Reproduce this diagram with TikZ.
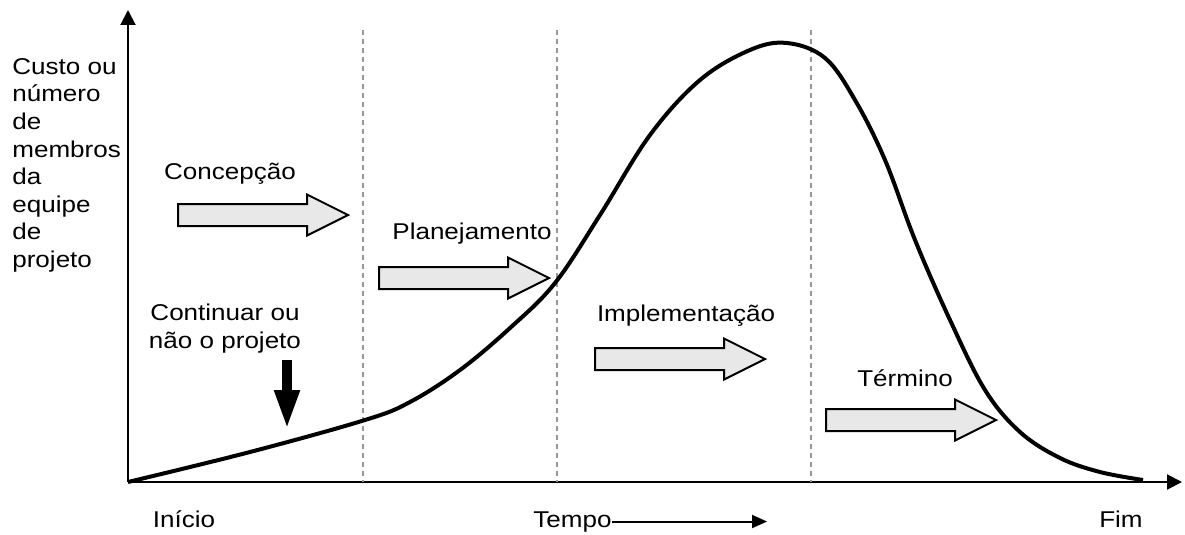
\documentclass[tikz,border=0pt]{standalone}
\usepackage{fontspec}
\setmainfont{Liberation Sans}[FakeStretch=1.14]
\usetikzlibrary{arrows.meta, positioning}

\definecolor{phasefill}{RGB}{232,232,232}
\definecolor{guidegray}{RGB}{150,150,150}

\tikzset{
  phase/.pic={
    \draw[fill=phasefill, line width=0.04cm, line join=miter]
      (0,-11) -- (129,-11) -- (129,-20.5) -- (170,0) -- (129,20.5)
      -- (129,11) -- (0,11) -- cycle;
  },
  txt/.style={font=\fontsize{13}{15.7}\selectfont, inner sep=0pt},
  guide/.style={guidegray, line width=0.03cm, dash pattern=on 0.1cm off 0.08cm},
  axis/.style={line width=0.04cm, -{Triangle[length=0.3cm,width=0.3cm]}}
}

\begin{document}
\begin{tikzpicture}[x=0.02cm, y=-0.02cm]
    \useasboundingbox (0,0) rectangle (1185,534);

    % axes
    \coordinate (o) at (128,482);
    \coordinate (ytop) at (128,10);
    \coordinate (xend) at (1182,482);
    \draw[axis] (o) -- (ytop);
    \draw[axis] (o) -- (xend);

    % phase limits
    \foreach \x in {363, 557, 811}
        \draw[guide] (\x,30) -- (\x,482);

    % effort curve
    \draw[line width=0.08cm, line join=round] plot[smooth, tension=0.6] coordinates {
        (128,482) (250,452) (365,420) (410,402) (460,370) (510,328) (555,283)
        (600,215) (650,135) (700,80) (750,50) (787,43) (825,58) (855,100)
        (885,160) (915,240) (950,320) (985,390) (1020,432) (1060,458)
        (1100,472) (1143,480)};

    % phases
    \pic (conc) at (178,215) {phase};
    \pic (plan) at (379,278) {phase};
    \pic (impl) at (595,359) {phase};
    \pic (term) at (826,420) {phase};

    \node[txt, anchor=base] (concl) at (230,179) {Concepção};
    \node[txt, anchor=base] (planl) at (472,239) {Planejamento};
    \node[txt, anchor=base] (impll) at (686,321) {Implementação};
    \node[txt, anchor=base] (terml) at (905,386) {Término};

    % y label
    \node[txt, anchor=north west, align=left] (ylab) at (12,58)
        {Custo ou\\número\\de\\membros\\da\\equipe\\de\\projeto};

    % decision
    \node[txt, anchor=north, align=center] (cont) at (225,304)
        {Continuar ou\\não o projeto};
    \coordinate (dtop) at (287,360);
    \coordinate (dtip) at (287,430);
    \draw[line width=0.2cm, -{Triangle[length=0.8cm,width=0.46cm]}] (dtop) -- (dtip);

    % x labels
    \node[txt, anchor=base] (ini) at (184,527) {Início};
    \node[txt, anchor=base west] (tempo) at (533,527) {Tempo};
    \node[txt, anchor=base east] (fim) at (1143,527) {Fim};
    \coordinate (tend) at (767,0);
    \draw[line width=0.04cm, -{Triangle[length=0.3cm,width=0.26cm]}] (tempo.east) -- (tempo.east -| tend);
\end{tikzpicture}
\end{document}
